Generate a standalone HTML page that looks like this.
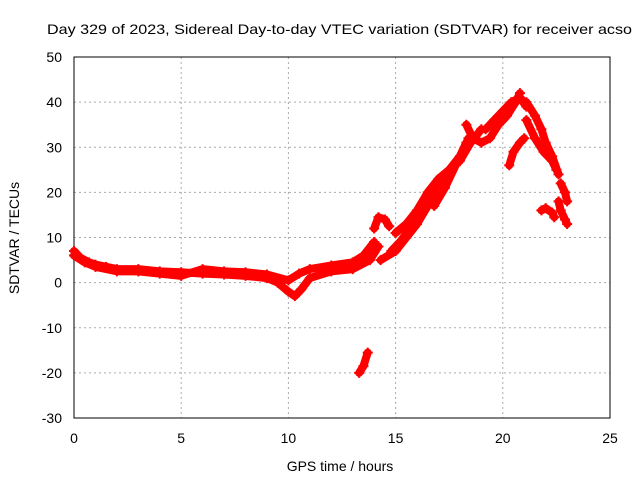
<!DOCTYPE html>
<html><head><meta charset="utf-8"><style>
body{margin:0;background:#fff;}
svg text{font-family:"Liberation Sans",sans-serif;font-size:14px;fill:#000;}
</style></head><body>
<svg width="640" height="480">
<rect width="640" height="480" fill="#fff"/>
<text x="47" y="34" textLength="585" lengthAdjust="spacingAndGlyphs">Day 329 of 2023, Sidereal Day-to-day VTEC variation (SDTVAR) for receiver acso</text>
<g id="grid"></g>
<rect x="74" y="57" width="536" height="361" fill="none" stroke="#000"/>
<g id="ticks"></g>
<g id="series"></g>
<text x="340" y="471" text-anchor="middle">GPS time / hours</text>
<text transform="translate(19,238) rotate(-90)" text-anchor="middle">SDTVAR / TECUs</text>
</svg>
<script>
const xTicks=[0,5,10,15,20,25];
const yTicks=[-30,-20,-10,0,10,20,30,40,50];
const tracks=[
[[0,7],[0.3,5.5],[0.7,4.5],[1,4],[1.5,3.5],[2,3],[3,3],[4,2.5],[5,2.3],[6,2],[7,1.8],[8,1.5],[9,1],[9.5,0],[10,-2],[10.3,-3],[10.6,-1.5],[11,1],[12,2.5],[13,3],[13.8,5],[14.2,8]],
[[0,6],[0.5,4.5],[1,3.5],[2,2.5],[3,2.5],[4,2],[5,1.5],[6,3],[7,2.5],[8,2.3],[9,1.8],[10,0.5],[10.5,2],[11,3],[12,3.8],[13,4.5],[13.5,6],[14,9]],
[[14,12],[14.2,14.5],[14.5,14],[14.7,12.5]],
[[14.3,5],[15,7],[15.5,10],[16,13],[16.5,17],[17,19]],
[[14.8,7],[15.2,9],[16,14],[16.5,18],[17,22],[17.5,25],[18,28],[18.4,32]],
[[15,11],[15.5,13],[16,16],[16.5,20],[17,23],[17.5,25],[18,27],[18.5,31],[19,34]],
[[16.8,17],[17.3,21],[17.8,26],[18.3,31]],
[[18.3,35],[18.6,32],[19,31],[19.4,32],[19.8,35],[20.2,37],[20.6,40],[20.8,42]],
[[19.2,34],[19.6,36],[20,38],[20.4,40],[20.8,41],[21.1,39]],
[[20.3,26],[20.5,29],[20.8,31],[21,32]],
[[21.1,40],[21.5,37],[21.8,34],[22,31],[22.3,28],[22.6,24]],
[[21.1,36],[21.5,32],[21.9,29],[22.3,27],[22.5,25]],
[[22.7,22],[22.9,20],[23,18]],
[[21.8,16],[22,16.5],[22.3,15.5],[22.4,14.5]],
[[22.6,18],[22.7,16],[22.9,14],[23,13]],
[[13.3,-20],[13.5,-18.5],[13.7,-15.5]]
];
const X=v=>74+v*536/25, Y=v=>418-(v+30)*361/80;
const ns="http://www.w3.org/2000/svg";
const g=document.getElementById('grid'),t=document.getElementById('ticks'),s=document.getElementById('series');
function mk(p,tag,a){const e=document.createElementNS(ns,tag);for(const k in a)e.setAttribute(k,a[k]);p.appendChild(e);return e;}
xTicks.forEach(v=>{
 if(v>0&&v<25){const l=mk(g,'line',{x1:X(v),x2:X(v),y1:57,y2:418,stroke:'#aaa','stroke-dasharray':'2,3'});
 
 }
 const tx=mk(t,'text',{x:X(v),y:443,'text-anchor':'middle'});tx.textContent=v;
 
 
});
yTicks.forEach(v=>{
 if(v>-30&&v<50){const l=mk(g,'line',{x1:74,x2:610,y1:Y(v),y2:Y(v),stroke:'#aaa','stroke-dasharray':'2,3'});
 
 }
 const tx=mk(t,'text',{x:62,y:Y(v)+5,'text-anchor':'end'});tx.textContent=v;
 
 
});
tracks.forEach(tr=>{
 const pl=mk(s,'polyline',{points:tr.map(p=>X(p[0])+','+Y(p[1])).join(' '),fill:'none',stroke:'#f00','stroke-width':8,'stroke-linejoin':'round','stroke-linecap':'round'});
 
 
 tr.forEach(p=>{
  const m=mk(s,'path',{d:`M${X(p[0])-5},${Y(p[1])}h10M${X(p[0])},${Y(p[1])-5}v10`,stroke:'#f00','stroke-width':2});
  
  
 });
});
</script>
</body></html>
